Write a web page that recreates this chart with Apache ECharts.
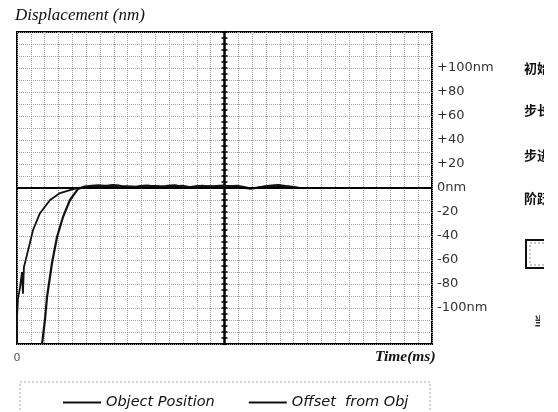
<!DOCTYPE html>
<html>
<head>
<meta charset="utf-8">
<script src="https://cdn.jsdelivr.net/npm/echarts@6/dist/echarts.min.js"></script>
<style>html,body{margin:0;padding:0;background:#fff;}#c{width:558px;height:412px;}</style>
</head>
<body>
<div id="c"></div>
<script>
// Time (arbitrary ms grid units, 30 divisions across the screen)
const objTime = [0, 0, 0.07, 0.22, 0.36, 0.43, 0.5, 0.8, 1.16, 1.66, 2.39, 3.11, 3.83, 4.41,
  4.9, 5.4, 5.9, 6.4, 6.9, 7.4, 7.9, 8.4, 8.9, 9.4, 9.9, 10.4, 10.9, 11.4, 11.9, 12.4,
  12.9, 13.4, 13.9, 14.4, 14.9, 15.4, 15.9, 16.4, 16.9, 17.4, 17.9, 18.4, 18.9, 19.4, 19.9, 20.4];
const objValue = [-130, -108, -92, -83, -70, -88, -66, -52, -35, -21, -10, -4.2, -1.7, 0,
  0.4, 1.0, 1.5, 2.0, 1.2, 0.8, 1.6, 1.3, 0.5, 1.1, 1.8, 1.5, 0.9, 1.4, 1.9, 1.2,
  0.6, 1.1, 1.5, 0.8, 1.2, 1.7, 0.9, 0.0, -0.6, 0.4, 1.4, 1.7, 1.1, 1.5, 0.8, 0.0];
const offTime = [1.81, 2.02, 2.17, 2.53, 2.89, 3.33, 3.83, 4.19, 4.41,
  4.9, 5.4, 5.9, 6.4, 6.9, 7.4, 7.9, 8.4, 8.9, 9.4, 9.9, 10.4, 10.9, 11.4, 11.9, 12.4,
  12.9, 13.4, 13.9, 14.4, 14.9, 15.4, 15.9, 16.4, 16.9, 17.4, 17.9, 18.4, 18.9, 19.4, 19.9, 20.4];
const offValue = [-130, -110, -91, -62.5, -41, -24, -10, -4.2, -0.8,
  1.2, 1.8, 2.2, 1.5, 2.4, 1.9, 1.0, 0.6, 1.6, 2.1, 1.4, 0.8, 1.7, 2.3, 1.2, 0.5,
  1.3, 1.9, 1.1, 1.6, 2.0, 1.4, 1.8, 0.7, -0.4, 0.3, 1.2, 2.0, 2.5, 1.6, 1.0, 0.0];
const yTickValues = [100, 80, 60, 40, 20, 0, -20, -40, -60, -80, -100];
const yTickLabels = ['+100nm', '+80', '+60', '+40', '+20', '0nm', '-20', '-40', '-60', '-80', '-100nm'];
const seriesNames = ['Object Position', 'Offset  from Obj'];
const sideLabels = ['初始', '步长', '步进', '阶跃'];

const zip = (a, b) => a.map((v, i) => [v, b[i]]);
const chart = echarts.init(document.getElementById('c'), null, {renderer: 'canvas'});
const axisBase = {type: 'value', min: -130, max: 130, interval: 5};
chart.setOption({
  animation: false,
  backgroundColor: '#fff',
  grid: {left: 17, right: 126, top: 32, bottom: 68, show: true, borderColor: '#000', borderWidth: 2, backgroundColor: 'transparent'},
  xAxis: {
    type: 'value', min: 0, max: 30, interval: 1,
    axisLine: {show: false}, axisTick: {show: false},
    axisLabel: {margin: 9, fontFamily: 'DejaVu Sans', fontSize: 11, color: '#555',
      formatter: v => v === 0 ? '0' : ''},
    splitLine: {show: true, lineStyle: {color: '#a0a0a0', type: 'dotted', width: 1}}
  },
  yAxis: [
    {type: 'value', min: -130, max: 130, interval: 10, position: 'right',
      axisLine: {show: false}, axisTick: {show: false},
      axisLabel: {margin: 5, fontFamily: 'DejaVu Sans', fontSize: 13, color: '#333',
        formatter: v => { const i = yTickValues.indexOf(v); return i >= 0 ? yTickLabels[i] : ''; }},
      splitLine: {show: true, lineStyle: {color: '#a0a0a0', type: 'dotted', width: 1}}},
    Object.assign({}, axisBase, {position: 'left', offset: -207.5,
      axisLine: {show: true, lineStyle: {color: '#000', width: 2.5}},
      axisTick: {show: true, inside: true, length: 3, lineStyle: {color: '#000', width: 1.5}},
      axisLabel: {show: false}, splitLine: {show: false}}),
    Object.assign({}, axisBase, {position: 'left', offset: -207.5,
      axisLine: {show: false},
      axisTick: {show: true, inside: false, length: 3, lineStyle: {color: '#000', width: 1.5}},
      axisLabel: {show: false}, splitLine: {show: false}})
  ],
  legend: {
    left: 58, top: 390, itemWidth: 38, itemHeight: 2, itemGap: 34, icon: 'rect',
    textStyle: {fontFamily: 'DejaVu Sans', fontStyle: 'italic', fontSize: 14.5, color: '#111'},
    data: seriesNames
  },
  series: [
    {name: seriesNames[0], type: 'line', data: zip(objTime, objValue), showSymbol: false,
      lineStyle: {color: '#111', width: 1.8}, itemStyle: {color: '#111'},
      markLine: {silent: true, symbol: 'none', label: {show: false},
        lineStyle: {color: '#000', width: 2, type: 'solid'}, data: [{yAxis: 0}]}},
    {name: seriesNames[1], type: 'line', data: zip(offTime, offValue), showSymbol: false,
      lineStyle: {color: '#111', width: 2.2}, itemStyle: {color: '#111'}}
  ],
  graphic: [
    {type: 'text', left: 15, top: 7, style: {text: 'Displacement (nm)', font: 'italic 17px "Liberation Serif"', fill: '#111'}},
    {type: 'text', left: 375, top: 349, style: {text: 'Time(ms)', font: 'italic bold 15.5px "Liberation Serif"', fill: '#111'}},
    {type: 'rect', shape: {x: 20, y: 382, width: 410, height: 60}, style: {fill: 'none', stroke: '#aaa', lineWidth: 1, lineDash: [2, 2]}},
    {type: 'text', left: 524, top: 62, style: {text: sideLabels[0], font: 'bold 13px "Noto Sans CJK SC"', fill: '#111'}},
    {type: 'text', left: 524, top: 104, style: {text: sideLabels[1], font: 'bold 13px "Noto Sans CJK SC"', fill: '#111'}},
    {type: 'text', left: 524, top: 149, style: {text: sideLabels[2], font: 'bold 13px "Noto Sans CJK SC"', fill: '#111'}},
    {type: 'text', left: 524, top: 192, style: {text: sideLabels[3], font: 'bold 13px "Noto Sans CJK SC"', fill: '#111'}},
    {type: 'text', left: 534, top: 315, style: {text: '当前', font: 'bold 12px "Noto Sans CJK SC"', fill: '#333'}},
    {type: 'polyline', shape: {points: [[548, 240], [526, 240], [526, 268], [548, 268]]}, style: {stroke: '#111', lineWidth: 2, fill: 'none'}},
    {type: 'polyline', shape: {points: [[548, 243], [530, 243], [530, 265], [548, 265]]}, style: {stroke: '#888', lineWidth: 1, fill: 'none', lineDash: [2, 2]}},
    {type: 'rect', z: 100, shape: {x: 544, y: 40, width: 14, height: 320}, style: {fill: '#fff'}},
    {type: 'rect', z: 100, shape: {x: 540, y: 300, width: 18, height: 40}, style: {fill: '#fff'}}
  ]
});
</script>
</body>
</html>
